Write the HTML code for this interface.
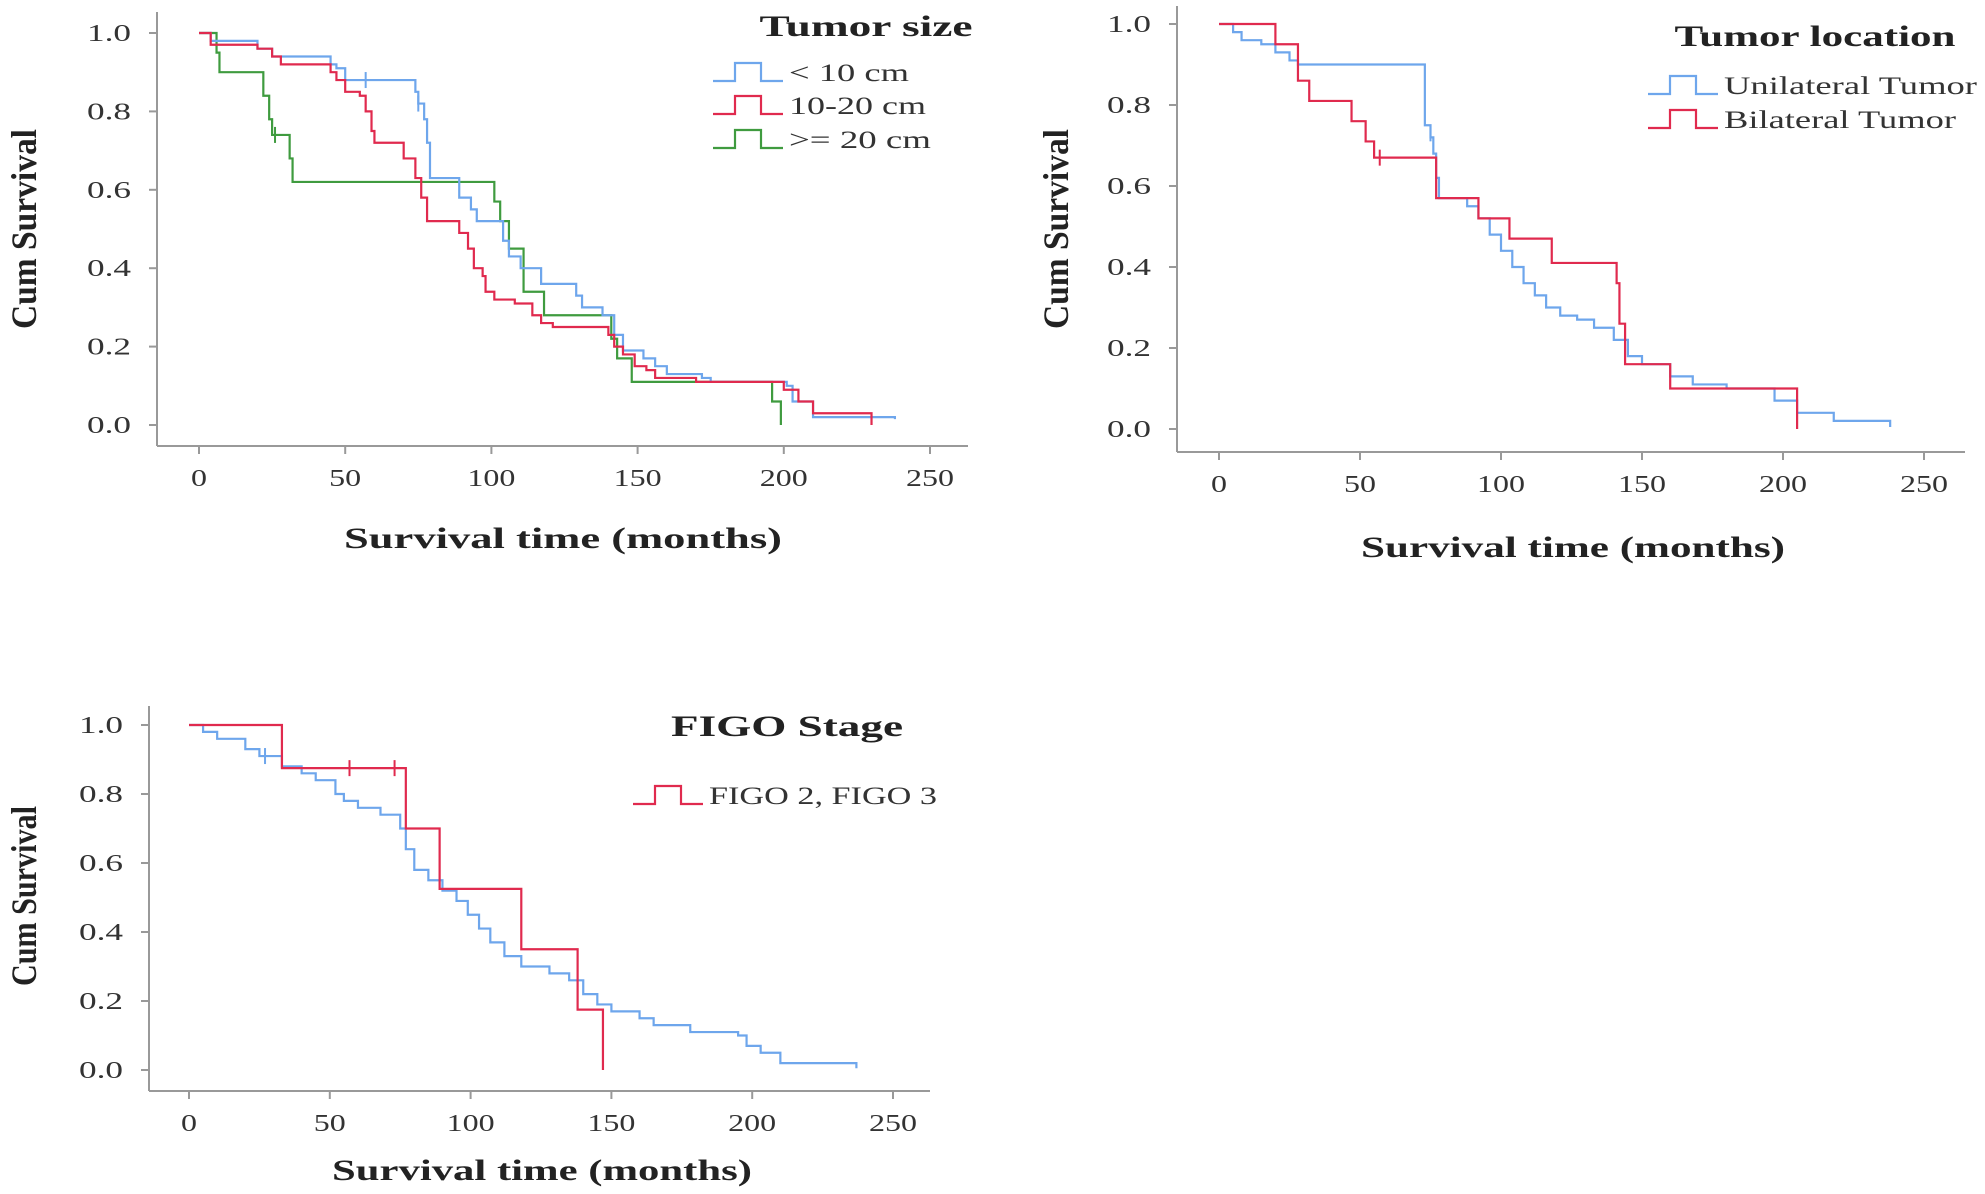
<!DOCTYPE html>
<html><head><meta charset="utf-8"><style>
body{margin:0;background:#fff}
svg text{font-family:"Liberation Serif",serif}
</style></head><body>
<svg id="s" width="1985" height="1189" xmlns="http://www.w3.org/2000/svg"></svg>
<script>
// ---- data: chart 1 Tumor size ----
const c1BlueT=[0,4,20,25,45,47,50,74,75,77,78,79,89,93,95,104,106,110,117,129,131,138,142,145,152,156,160,172,175,201,203,210,238];
const c1BlueS=[1,.98,.96,.94,.92,.91,.88,.85,.82,.78,.72,.63,.58,.55,.52,.47,.43,.40,.36,.33,.30,.28,.23,.19,.17,.15,.13,.12,.11,.10,.06,.02,.015];
const c1RedT=[0,4,20,25,28,45,47,50,55,57,59,60,70,74,76,78,89,92,94,97,98,101,108,114,117,121,140,142,145,149,153,156,170,200,205,210,230];
const c1RedS=[1,.97,.96,.94,.92,.90,.88,.85,.84,.80,.75,.72,.68,.63,.58,.52,.49,.45,.40,.38,.34,.32,.31,.28,.26,.25,.23,.20,.18,.15,.14,.12,.11,.09,.06,.03,0];
const c1GreenT=[0,6,7,22,24,25,31,32,101,103,106,111,118,141,143,148,196,199];
const c1GreenS=[1,.95,.90,.84,.78,.74,.68,.62,.57,.52,.45,.34,.28,.22,.17,.11,.06,0];
// ---- chart 2 Tumor location ----
const c2BlueT=[0,5,8,15,20,25,28,73,75,76,77,78,88,92,96,100,104,108,112,116,121,127,133,140,145,150,160,168,180,197,205,218,238];
const c2BlueS=[1,.98,.96,.95,.93,.91,.90,.75,.72,.68,.62,.57,.55,.52,.48,.44,.40,.36,.33,.30,.28,.27,.25,.22,.18,.16,.13,.11,.10,.07,.04,.02,.005];
const c2RedT=[0,20,28,32,47,52,55,77,92,103,118,141,142,144,160,205];
const c2RedS=[1,.95,.86,.81,.76,.71,.67,.57,.52,.47,.41,.36,.26,.16,.10,0];
// ---- chart 3 FIGO stage ----
const c3BlueT=[0,5,10,20,25,33,40,45,52,55,60,68,75,77,80,85,90,95,99,103,107,112,118,128,135,140,145,150,160,165,178,195,198,203,210,237];
const c3BlueS=[1,.98,.96,.93,.91,.88,.86,.84,.80,.78,.76,.74,.70,.64,.58,.55,.52,.49,.45,.41,.37,.33,.30,.28,.26,.22,.19,.17,.15,.13,.11,.10,.07,.05,.02,.005];
const c3RedT=[0,33,77,89,118,138,147];
const c3RedS=[1,.875,.70,.525,.35,.175,0];
const xTicks=[0,50,100,150,200,250];
const yTicks=[0,0.2,0.4,0.6,0.8,1.0];

const NS="http://www.w3.org/2000/svg";
const svg=document.getElementById('s');
function el(t,a,p){const e=document.createElementNS(NS,t);for(const k in a)e.setAttribute(k,a[k]);(p||svg).appendChild(e);return e;}
function fit(e,w){e.setAttribute('textLength',w);e.setAttribute('lengthAdjust','spacingAndGlyphs');}
const BLUE="#6ea6ec",RED="#e02a4e",GREEN="#3f9b3f";

function chart(cfg,series,name){
  const g=el('g',{});
  
  
  const X=v=>cfg.x0+(cfg.x250-cfg.x0)*v/250, Y=v=>cfg.y0+(cfg.y1-cfg.y0)*v;
  const ya=el('line',{x1:cfg.ax,y1:cfg.top,x2:cfg.ax,y2:cfg.ay,stroke:'#999','stroke-width':2},g);
  
  const xa=el('line',{x1:cfg.ax,y1:cfg.ay,x2:cfg.right,y2:cfg.ay,stroke:'#999','stroke-width':2},g);
  
  xTicks.forEach(t=>{
    el('line',{x1:X(t),y1:cfg.ay,x2:X(t),y2:cfg.ay+8,stroke:'#999','stroke-width':2},g);
    const tx=el('text',{x:X(t),y:cfg.ay+40,'text-anchor':'middle','font-size':24,fill:'#333'},g);
    tx.textContent=t;
    fit(tx,String(t).length*16);
    
  });
  yTicks.forEach(t=>{
    el('line',{x1:cfg.ax-8,y1:Y(t),x2:cfg.ax,y2:Y(t),stroke:'#999','stroke-width':2},g);
    const tx=el('text',{x:cfg.ax-26,y:Y(t)+8,'text-anchor':'end','font-size':24,fill:'#333'},g);
    tx.textContent=t.toFixed(1);
    fit(tx,44);
    
  });
  const xt=el('text',{x:cfg.xtx,y:cfg.xty,'text-anchor':'middle','font-size':30,'font-weight':'bold',fill:'#222'},g);
  xt.textContent='Survival time (months)';
  fit(xt,cfg.xtw);
  
  const yt=el('text',{x:0,y:0,'text-anchor':'middle','font-size':36,'font-weight':'bold',fill:'#222',transform:`translate(${cfg.ytx+2},${cfg.yty}) rotate(-90)`},g);
  yt.textContent='Cum Survival';
  fit(yt,cfg.ytw);
  
  series.forEach(s=>{
    let d=`M${X(s.t[0])},${Y(s.s[0])}`;
    for(let i=1;i<s.t.length;i++){d+=` H${X(s.t[i])} V${Y(s.s[i])}`;}
    const p=el('path',{d:d,fill:'none',stroke:s.c,'stroke-width':2.2},g);
    
    (s.cens||[]).forEach(cv=>{
      const m=el('line',{x1:X(cv[0]),y1:Y(cv[1])-8,x2:X(cv[0]),y2:Y(cv[1])+8,stroke:s.c,'stroke-width':2},g);
      
    });
  });
  const lt=el('text',{x:cfg.lgx,y:cfg.lgy,'text-anchor':'middle','font-size':30,'font-weight':'bold',fill:'#222'},g);
  lt.textContent=cfg.lgTitle;
  fit(lt,cfg.lgw);
  
  cfg.entries.forEach((e,i)=>{
    const y=cfg.ly[i];const sx=cfg.lsx;
    const ls=el('path',{d:`M${sx},${y+9} H${sx+22} V${y-9} H${sx+48} V${y+9} H${sx+70}`,fill:'none',stroke:e.c,'stroke-width':2.2},g);
    
    const tx=el('text',{x:sx+76,y:y+9,'font-size':25,fill:'#333'},g);
    tx.textContent=e.l;
    fit(tx,e.w);
    
  });
}

chart({ax:157,ay:446,top:12,right:968,x0:199,x250:930,y0:425,y1:33,xtx:563,xty:548,xtw:438,ytx:34,yty:229,ytw:200,
  lgTitle:'Tumor size',lgx:866,lgy:36,lgw:213,lsx:713,ly:[72,105,139],
  entries:[{c:BLUE,l:'< 10 cm',w:120},{c:RED,l:'10-20 cm',w:137},{c:GREEN,l:'>= 20 cm',w:142}]},
  [{t:c1GreenT,s:c1GreenS,c:GREEN,n:'curve-gte-20cm',cens:[[26,0.74]]},
   {t:c1BlueT,s:c1BlueS,c:BLUE,n:'curve-lt-10cm',cens:[[57,0.88],[75,0.82]]},
   {t:c1RedT,s:c1RedS,c:RED,n:'curve-10-20cm'}],'chart-tumor-size');

chart({ax:1177,ay:452,top:6,right:1965,x0:1219,x250:1924,y0:429,y1:24,xtx:1573,xty:557,xtw:424,ytx:1066,yty:229,ytw:200,
  lgTitle:'Tumor location',lgx:1815,lgy:46,lgw:281,lsx:1648,ly:[85,119],
  entries:[{c:BLUE,l:'Unilateral Tumor',w:253},{c:RED,l:'Bilateral Tumor',w:232}]},
  [{t:c2BlueT,s:c2BlueS,c:BLUE,n:'curve-unilateral',cens:[[75,0.73]]},
   {t:c2RedT,s:c2RedS,c:RED,n:'curve-bilateral',cens:[[57,0.67]]}],'chart-tumor-location');

chart({ax:149,ay:1091,top:706,right:930,x0:189,x250:893,y0:1070,y1:725,xtx:542,xty:1180,xtw:420,ytx:34,yty:896,ytw:180,
  lgTitle:'FIGO Stage',lgx:787,lgy:736,lgw:232,lsx:633,ly:[795],
  entries:[{c:RED,l:'FIGO 2, FIGO 3',w:228}]},
  [{t:c3BlueT,s:c3BlueS,c:BLUE,n:'curve-figo-1',cens:[[27,0.91]]},
   {t:c3RedT,s:c3RedS,c:RED,n:'curve-figo-2-3',cens:[[57,0.875],[73,0.875]]}],'chart-figo-stage');
</script>
</body></html>
